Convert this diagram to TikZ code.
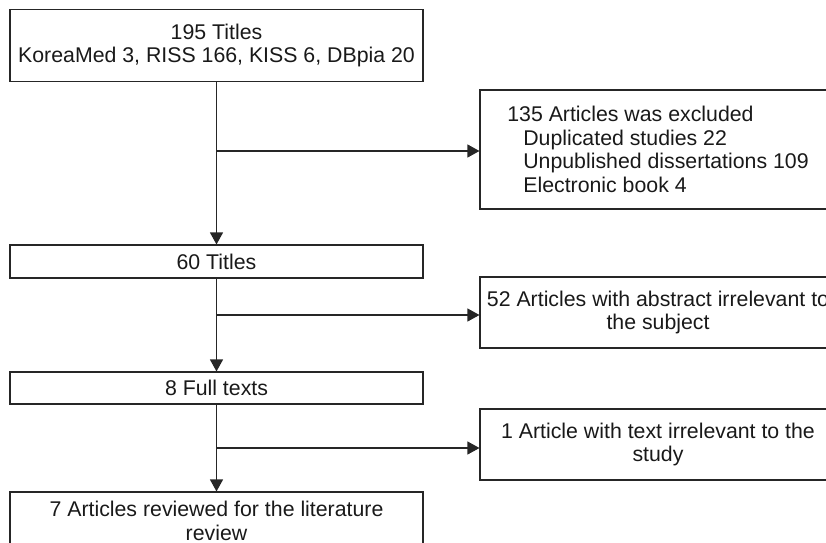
\documentclass[tikz,border=0pt]{standalone}
\usepackage{fontspec}
\setmainfont{Liberation Sans}
\usetikzlibrary{arrows.meta}

\begin{document}
\begin{tikzpicture}[x=1pt, y=-1pt,
		box/.style={draw=black!85, line width=1.1pt, align=center, inner sep=0pt,
			font=\fontsize{21.3}{23.5}\selectfont, text=black!90},
		flow/.style={draw=black!85, line width=1.1pt, -{Triangle[length=12pt,width=13pt]}}]
		\clip (0, 0) rectangle (826, 542);
		%%
		\node[box, minimum width=413, minimum height=72] (titles) at (216.5, 45.5)
			{195 Titles\\KoreaMed 3, RISS 166, KISS 6, DBpia 20};
		\node[box, minimum width=413, minimum height=33] (sixty) at (216.5, 261.5) {60 Titles};
		\node[box, minimum width=413, minimum height=32] (full) at (216.5, 388) {8 Full texts};
		\node[box, minimum width=413, minimum height=58] (reviewed) at (216.5, 521)
			{7 Articles reviewed for the literature\\review};
		%%
		\node[box, align=left, minimum width=356, minimum height=119] (excluded) at (658, 149.5)
			{135 Articles was excluded\\
			\hspace*{16pt}Duplicated studies 22\\
			\hspace*{16pt}Unpublished dissertations 109\\
			\hspace*{16pt}Electronic book 4};
		\node[box, minimum width=356, minimum height=71] (abstract) at (658, 312.5)
			{52 Articles with abstract irrelevant to\\the subject};
		\node[box, minimum width=356, minimum height=71] (text) at (658, 444.5)
			{1 Article with text irrelevant to the\\study};
		%%
		\coordinate (split1) at (216.5, 151);
		\coordinate (split2) at (216.5, 315);
		\coordinate (split3) at (216.5, 448);
		%%
		\draw[flow] (titles) -- (sixty);
		\draw[flow] (sixty) -- (full);
		\draw[flow] (full) -- (reviewed);
		\draw[flow] (split1) -- (split1 -| excluded.west);
		\draw[flow] (split2) -- (split2 -| abstract.west);
		\draw[flow] (split3) -- (split3 -| text.west);
	\end{tikzpicture}
\end{document}
